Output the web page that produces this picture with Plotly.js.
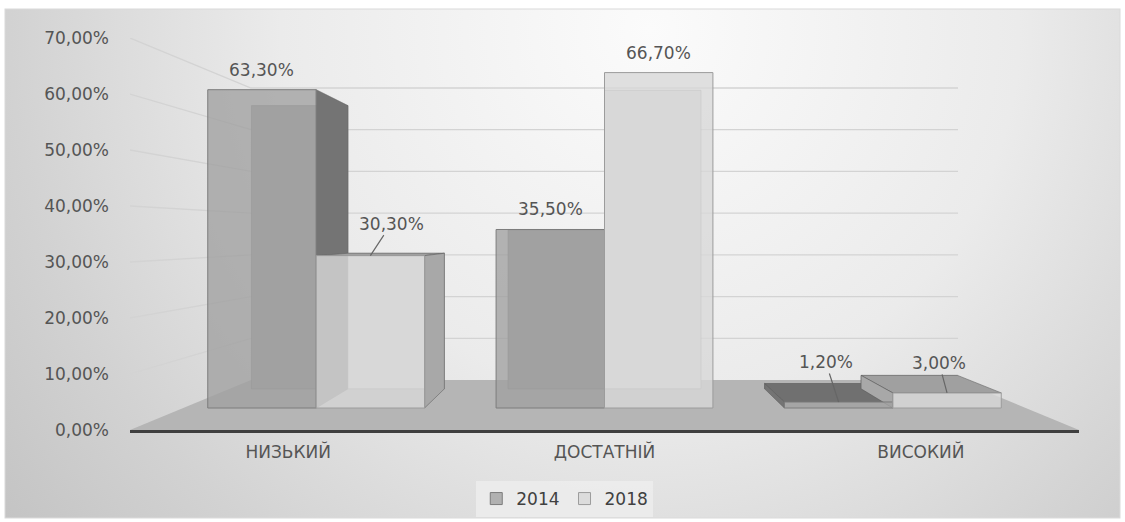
<!DOCTYPE html>
<html>
<head>
<meta charset="utf-8">
<script src="https://cdn.plot.ly/plotly-3.0.1.min.js"></script>
<style>html,body{margin:0;padding:0;background:#fff;}#chart{width:1125px;height:522px;}</style>
</head>
<body>
<div id="chart"></div>
<script>
// ---- data ----
const categories = ['НИЗЬКИЙ', 'ДОСТАТНІЙ', 'ВИСОКИЙ'];
const seriesNames = ['2014', '2018'];
const values2014 = [0.633, 0.355, 0.012];
const values2018 = [0.303, 0.667, 0.030];
const yTickValues = [0, 0.1, 0.2, 0.3, 0.4, 0.5, 0.6, 0.7];

// ---- styling / geometry config ----
const FONT = 'DejaVu Sans, Verdana, sans-serif';
const FS = 17;
const TXT = '#555555';
const W = 1125, H = 522;
const barW = 0.376;
const seriesOffsets = [-barW, 0];
const seriesStyle = [
  {front: 'rgba(160,160,160,0.78)', back: '#a3a3a3', side: '#747474', top: '#707070', line: '#7c7c7c'},
  {front: 'rgba(216,216,216,0.8)', back: '#d8d8d8', side: '#a8a8a8', top: '#a0a0a0', line: '#9c9c9c'}
];
const barDepth = 0.11, floorDepth = 0.255;
const vpBars = [1.0, 0.346];   // vanishing point in x2/y2 units
const vpFront = [1.0, 0.35];   // vanishing point in x/y units
// label leader offsets (px) keyed by series index / category index
const leaders = {'1-0': [21, -32], '0-2': [-13, -40], '1-2': [-8, -30]};

const idx = categories.map((c, i) => i);
const allSeries = [values2014, values2018];

function toward(p, k, vp) { return [p[0] + k * (vp[0] - p[0]), p[1] + k * (vp[1] - p[1])]; }
function poly(pts) { return 'M' + pts.map(p => p[0].toFixed(4) + ',' + p[1].toFixed(4)).join('L') + 'Z'; }
function fmt(v) { return (v * 100).toFixed(2).replace('.', ',') + '%'; }

const shapes = [];
// floor
{
  const fl = [-0.5, 0], fr = [2.5, 0];
  const bl = toward(fl, floorDepth, vpFront), br = toward(fr, floorDepth, vpFront);
  shapes.push({type: 'path', xref: 'x', yref: 'y', layer: 'below', path: poly([fl, fr, br, bl]),
    fillcolor: '#b5b5b5', line: {width: 0}});
}
// perspective gridlines
yTickValues.filter(v => v > 0).forEach(v => {
  const a = [-0.5, v], b = toward([-0.5, v], floorDepth, vpFront), c = toward([2.5, v], floorDepth, vpFront);
  shapes.push({type: 'path', xref: 'x', yref: 'y', layer: 'below',
    path: 'M' + a.join(',') + 'L' + b.join(',') + 'L' + c.join(','),
    line: {color: '#d3d3d3', width: 1.3}});
});
// 3D bar parts
allSeries.forEach((vals, s) => {
  const st = seriesStyle[s];
  vals.forEach((v, i) => {
    const xl = idx[i] + seriesOffsets[s], xr = xl + barW;
    const BL = [xl, 0], BR = [xr, 0], TL = [xl, v], TR = [xr, v];
    const [bBL, bBR, bTL, bTR] = [BL, BR, TL, TR].map(p => toward(p, barDepth, vpBars));
    const base = {type: 'path', xref: 'x2', yref: 'y2', layer: 'below'};
    shapes.push(Object.assign({}, base, {path: poly([bBL, bBR, bTR, bTL]), fillcolor: st.back, line: {color: 'rgba(120,120,120,0.55)', width: 1}}));
    if (v < vpBars[1]) shapes.push(Object.assign({}, base, {path: poly([TL, TR, bTR, bTL]), fillcolor: st.top, line: {color: 'rgba(100,100,100,0.6)', width: 1}}));
    if (xr < vpBars[0] - 0.01) shapes.push(Object.assign({}, base, {path: poly([BR, TR, bTR, bBR]), fillcolor: st.side, line: {color: 'rgba(100,100,100,0.6)', width: 1}}));
    if (xl > vpBars[0] + 0.01) shapes.push(Object.assign({}, base, {path: poly([BL, TL, bTL, bBL]), fillcolor: st.side, line: {color: 'rgba(90,90,90,0.6)', width: 1}}));
  });
});

// data labels
const annotations = [];
allSeries.forEach((vals, s) => {
  vals.forEach((v, i) => {
    const xc = idx[i] + seriesOffsets[s] + barW / 2;
    const lead = leaders[s + '-' + i];
    const a = {x: xc, y: v, xref: 'x2', yref: 'y2', text: fmt(v), font: {family: FONT, size: FS, color: TXT}};
    if (lead) Object.assign(a, {showarrow: true, arrowhead: 0, arrowwidth: 1.2, arrowcolor: '#666', ax: lead[0], ay: lead[1], standoff: 0});
    else Object.assign(a, {showarrow: false, yanchor: 'bottom', yshift: 8});
    annotations.push(a);
  });
});

const traces = [
  {type: 'scatter', x: idx, y: idx.map(() => 0), xaxis: 'x', yaxis: 'y', mode: 'markers',
   marker: {opacity: 0}, showlegend: false, hoverinfo: 'skip'}
];
allSeries.forEach((vals, s) => {
  traces.push({type: 'bar', name: seriesNames[s], x: idx, y: vals, xaxis: 'x2', yaxis: 'y2',
    width: barW, offset: seriesOffsets[s],
    marker: {color: seriesStyle[s].front, line: {color: seriesStyle[s].line, width: 1}},
    hoverinfo: 'skip'});
});

const bgSvg = "<svg xmlns='http://www.w3.org/2000/svg' width='1125' height='522' viewBox='0 0 1125 522' preserveAspectRatio='none'>" +
  "<defs><radialGradient id='g' gradientUnits='userSpaceOnUse' cx='650' cy='30' r='820'>" +
  "<stop offset='0' stop-color='#fbfbfb'/><stop offset='0.45' stop-color='#ebebeb'/><stop offset='0.78' stop-color='#d2d2d2'/><stop offset='1' stop-color='#c3c3c3'/></radialGradient></defs>" +
  "<rect width='1125' height='522' fill='#ffffff'/><rect x='5' y='9' width='1115' height='509' fill='url(#g)' stroke='#dadada'/></svg>";

const yDom = [1 - 430 / H, 1 - 38 / H];
const layout = {
  width: W, height: H, margin: {l: 0, r: 0, t: 0, b: 0},
  paper_bgcolor: '#ffffff', plot_bgcolor: 'rgba(0,0,0,0)',
  separators: ', ',
  barmode: 'overlay',
  showlegend: true,
  font: {family: FONT, color: TXT},
  xaxis: {domain: [130 / W, 1079 / W], range: [-0.5, 2.5], tickvals: idx, ticktext: categories,
    showgrid: false, zeroline: false, showline: true, linecolor: '#3f3f3f', linewidth: 3, ticks: '',
    tickfont: {family: FONT, size: FS, color: TXT}, ticklabelstandoff: 5, anchor: 'y', fixedrange: true},
  yaxis: {domain: yDom, range: [0, 0.7], tickvals: yTickValues, tickformat: '.2%',
    showgrid: false, zeroline: false, showline: false, ticks: '', ticklabelstandoff: 20,
    tickfont: {family: FONT, size: FS, color: TXT}, anchor: 'x', fixedrange: true},
  xaxis2: {domain: [172 / W, 1037 / W], range: [-0.5, 2.5], visible: false, anchor: 'y2', fixedrange: true},
  yaxis2: {domain: yDom, range: [-22 / 503, 0.7 + 18 / 503], visible: false, anchor: 'x2', fixedrange: true},
  legend: {orientation: 'h', x: 0.502, xanchor: 'center', y: 1 - 499 / H, yanchor: 'middle',
    bgcolor: 'rgba(236,236,236,0.9)', font: {family: FONT, size: FS, color: '#404040'}, traceorder: 'normal'},
  images: [{source: 'data:image/svg+xml;charset=utf-8,' + encodeURIComponent(bgSvg), xref: 'paper', yref: 'paper',
    x: 0, y: 1, sizex: 1, sizey: 1, sizing: 'stretch', xanchor: 'left', yanchor: 'top', layer: 'below'}],
  shapes: shapes,
  annotations: annotations
};

Plotly.newPlot('chart', traces, layout, {staticPlot: true, displayModeBar: false});
</script>
</body>
</html>
